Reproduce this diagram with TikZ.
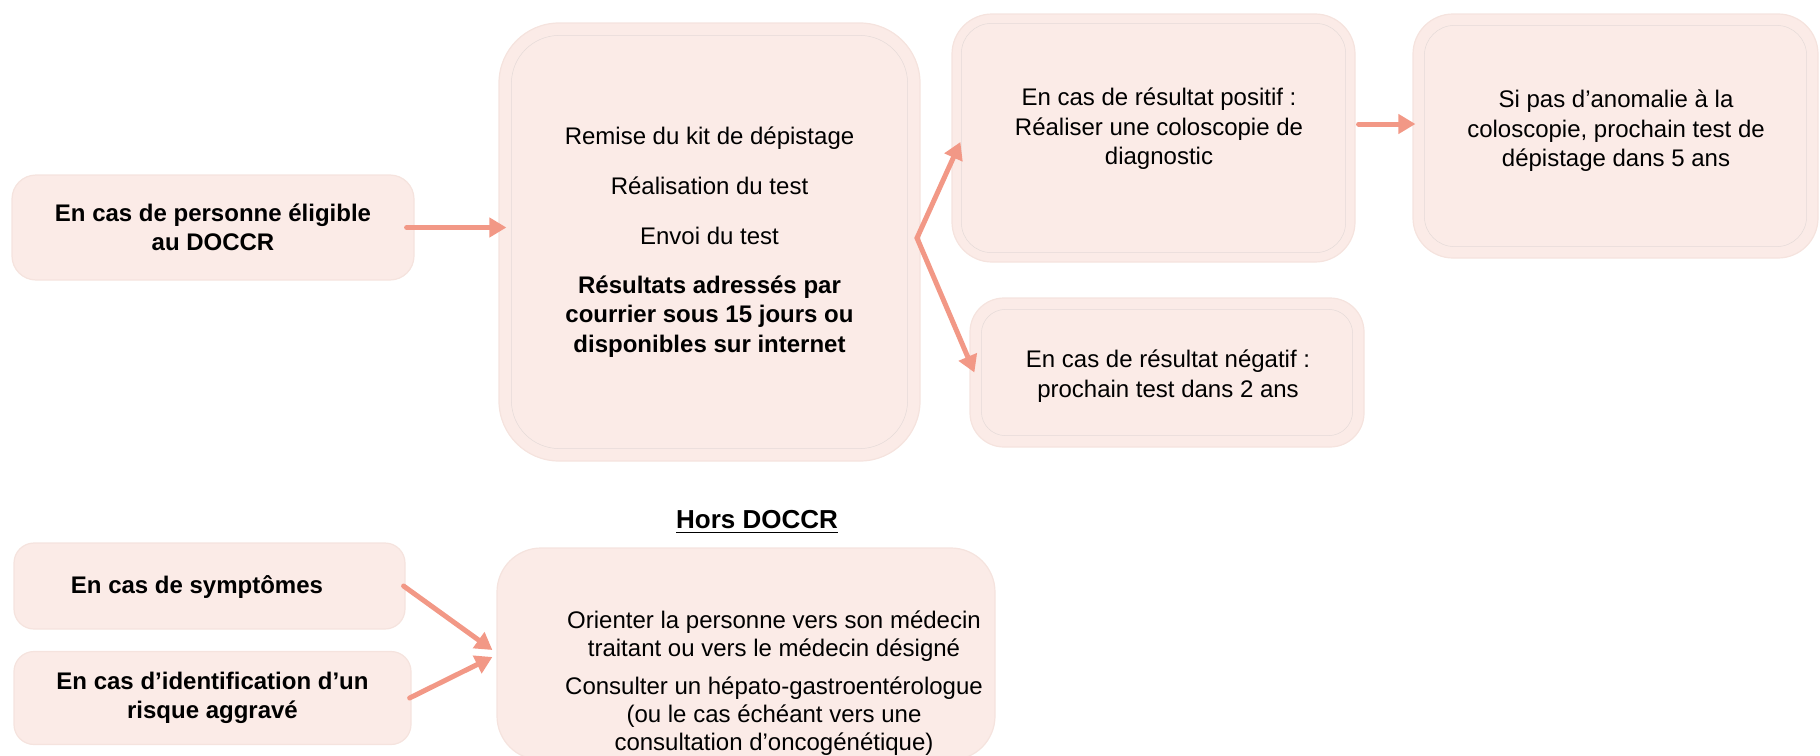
\documentclass[tikz,border=0pt]{standalone}
\usepackage{fontspec}
\setmainfont{Liberation Sans}
\usetikzlibrary{arrows.meta}
\definecolor{boxfill}{RGB}{251,235,231}
\definecolor{boxedge}{RGB}{245,227,222}
\definecolor{boxinner}{RGB}{228,218,216}
\definecolor{arrowpink}{RGB}{242,152,134}
\begin{document}
\begin{tikzpicture}[x=0.5pt,y=-0.5pt,>={Triangle[length=8.5pt,width=9.5pt]},
		font=\fontsize{12}{14.8}\selectfont, line join=round,
		box/.style={draw=boxedge,fill=boxfill,line width=0.6pt,inner sep=0pt,align=center},
		inner/.style={draw=boxinner,line width=0.25pt},
		txt/.style={align=center,inner sep=0pt},
		arr/.style={->,draw=arrowpink,line width=2.5pt,line cap=round}]
	\useasboundingbox (0,0) rectangle (1820,755);
	\clip (0,0) rectangle (1820,755);
	% boxes of the DOCCR path
	\node[box,rounded corners=12pt,minimum width=201pt,minimum height=52.5pt] (A) at (213,227.5) {\bfseries En cas de personne éligible\\\bfseries au DOCCR};
	\node[box,rounded corners=30pt,minimum width=210.5pt,minimum height=219pt] (B) at (709.5,242) {Remise du kit de dépistage\\[10.2pt]Réalisation du test\\[10.2pt]Envoi du test\\[9.5pt]\bfseries Résultats adressés par\\\bfseries courrier sous 15 jours ou\\\bfseries disponibles sur internet};
	\node[box,rounded corners=20pt,minimum width=201.5pt,minimum height=124pt] (C) at (1153.5,138) {};
	\node[box,rounded corners=20pt,minimum width=202.5pt,minimum height=122pt] (E) at (1615.5,136) {};
	\node[box,rounded corners=17pt,minimum width=197pt,minimum height=74.5pt] (D) at (1167,372.5) {};
	\draw[inner,rounded corners=24pt] ([shift={(13,13)}]B.north west) rectangle ([shift={(-13,-13)}]B.south east);
	\draw[inner,rounded corners=15pt] ([shift={(10,10)}]C.north west) rectangle ([shift={(-10,-10)}]C.south east);
	\draw[inner,rounded corners=15pt] ([shift={(12,12)}]E.north west) rectangle ([shift={(-12,-12)}]E.south east);
	\draw[inner,rounded corners=12pt] ([shift={(12,12)}]D.north west) rectangle ([shift={(-12,-12)}]D.south east);
	\node[txt] (Ctxt) at (1159,129) {En cas de résultat positif :\\Réaliser une coloscopie de\\diagnostic};
	\node[txt] (Etxt) at (1616,131) {Si pas d’anomalie à la\\coloscopie, prochain test de\\dépistage dans 5 ans};
	\node[txt] (Dtxt) at (1168,376) {En cas de résultat négatif :\\prochain test dans 2 ans};
	% arrows
	\coordinate (fork) at (917,238);
	\draw[arr] ([xshift=-4pt]A.east) -- ([xshift=4pt]A.east -| B.west);
	\draw[arr] (fork) -- ([xshift=4.5pt,yshift=-2pt]C.west);
	\draw[arr] (fork) -- ([xshift=2.5pt]D.west);
	\draw[arr] ([xshift=1.5pt,yshift=7pt]C.east) -- ([xshift=1.5pt,yshift=7pt]C.east -| E.west);
	% hors DOCCR
	\node[font=\fontsize{13}{15}\selectfont\bfseries] (hors) at (757,522) {\underline{Hors DOCCR}};
	\node[box,rounded corners=10pt,minimum width=195.5pt,minimum height=43pt] (F) at (209.5,586) {};
	\node[box,rounded corners=10pt,minimum width=198.5pt,minimum height=46.5pt] (G) at (212.5,698) {\bfseries En cas d’identification d’un\\\bfseries risque aggravé};
	\node[box,rounded corners=22pt,minimum width=249pt,minimum height=106pt] (H) at (746,654) {};
	\node[txt,font=\fontsize{12}{14}\bfseries] (Ftxt) at (197,587) {En cas de symptômes};
	\node[txt,font=\fontsize{12}{14}\selectfont] (Htxt) at (774,683) {Orienter la personne vers son médecin\\traitant ou vers le médecin désigné\\[5pt]Consulter un hépato-gastroentérologue\\(ou le cas échéant vers une\\consultation d’oncogénétique)};
	\draw[arr] ([xshift=-1pt]F.east) -- ([xshift=-2pt,yshift=2pt]H.west);
	\draw[arr] ([xshift=-1pt]G.east) -- ([xshift=-2pt,yshift=-1.5pt]H.west);
\end{tikzpicture}
\end{document}
